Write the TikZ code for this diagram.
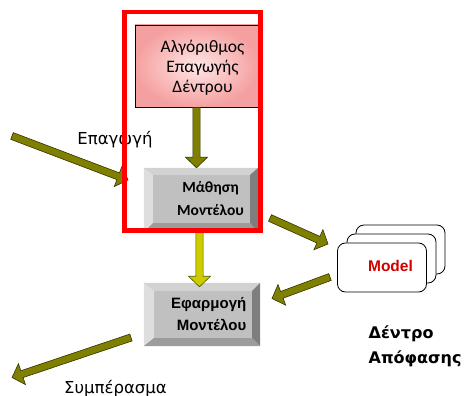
\documentclass[tikz,border=0pt]{standalone}
\usepackage{fontspec}
\setmainfont{Liberation Sans}
\newfontfamily\calfont{Carlito}
\newfontfamily\dvfont{DejaVu Sans}
\usetikzlibrary{calc}

\definecolor{bvface}{HTML}{C0C0C0}
\definecolor{bvtop}{HTML}{D2D2D2}
\definecolor{bvleft}{HTML}{DEDEDE}
\definecolor{bvright}{HTML}{7E7E7E}
\definecolor{bvbottom}{HTML}{9C9C9C}
\definecolor{olivefill}{HTML}{808000}
\definecolor{oliveline}{HTML}{333300}
\definecolor{yelfill}{HTML}{CCCC00}
\definecolor{yelline}{HTML}{555500}
\definecolor{pinkout}{HTML}{F5A0A0}
\definecolor{pinkin}{HTML}{FFE6E6}
\definecolor{modelred}{HTML}{D00000}

% block arrow between two points: #1 style, #2 tail, #3 tip
\newcommand\fatarrow[3]{%
  \path (#2) coordinate (fa-s) (#3) coordinate (fa-e);
  \path ($(fa-e)!10.5pt!(fa-s)$) coordinate (fa-h);
  \draw[#1] ($(fa-s)!3.6pt!90:(fa-e)$) -- ($(fa-h)!3.6pt!-90:(fa-s)$)
    -- ($(fa-h)!11pt!-90:(fa-s)$) -- (fa-e) -- ($(fa-h)!11pt!90:(fa-s)$)
    -- ($(fa-h)!3.6pt!90:(fa-s)$) -- ($(fa-s)!3.6pt!-90:(fa-e)$) -- cycle;}

% bevelled edges of a button node: #1 name, #2 left, #3 top, #4 right, #5 bottom
\newcommand\bevel[5]{%
  \fill[bvtop] (#1.north west) -- (#1.north east) -- ($(#1.north east)+(-#4,#3)$) -- ($(#1.north west)+(#2,#3)$) -- cycle;
  \fill[bvleft] (#1.north west) -- ($(#1.north west)+(#2,#3)$) -- ($(#1.south west)+(#2,-#5)$) -- (#1.south west) -- cycle;
  \fill[bvright] (#1.north east) -- (#1.south east) -- ($(#1.south east)+(-#4,-#5)$) -- ($(#1.north east)+(-#4,#3)$) -- cycle;
  \fill[bvbottom] (#1.south west) -- (#1.south east) -- ($(#1.south east)+(-#4,-#5)$) -- ($(#1.south west)+(#2,-#5)$) -- cycle;}

\begin{document}
\begin{tikzpicture}[x=1pt,y=-1pt,
  olivearrow/.style={fill=olivefill,draw=oliveline,line width=0.6pt,line join=miter},
  yelarrow/.style={fill=yelfill,draw=yelline,line width=0.6pt,line join=miter},
  button/.style={fill=bvface,draw=none,inner sep=0pt},
  btntext/.style={inner sep=0pt,font=\bfseries\fontsize{15}{22}\selectfont},
  plain/.style={inner sep=0pt,font=\dvfont\fontsize{16.5}{20}\selectfont},
  treetext/.style={inner sep=0pt,anchor=base west,font=\dvfont\bfseries\fontsize{16}{20}\selectfont},
  modelcard/.style={draw=black,line width=0.8pt,fill=white,rounded corners=8pt,
    minimum width=89pt,minimum height=49pt,inner sep=0pt}]
\useasboundingbox (0,0) rectangle (467,396);

% algorithm box
\node[draw=black,line width=0.7pt,inner sep=0pt,minimum width=123pt,minimum height=82pt,
  shading=radial,inner color=pinkin,outer color=pinkout] (algo) at (196.5,66) {};
\node[inner sep=0pt,align=center,font=\calfont\fontsize{17.5}{20}\selectfont]
  (algotext) at (202.5,68) {Αλγόριθμος\\Επαγωγής\\Δέντρου};

% learning button
\node[button,minimum width=114pt,minimum height=64pt] (learn) at (201,200) {};
\bevel{learn}{9}{7}{8}{9}
\node[btntext,align=center,font=\calfont\bfseries\fontsize{15.5}{23}\selectfont]
  (learntext) at (210.5,199) {Μάθηση\\Μοντέλου};

% application button
\node[button,minimum width=116pt,minimum height=63pt] (apply) at (202,314.5) {};
\bevel{apply}{10}{8}{8}{8}
\node[btntext,align=right,anchor=east] (applytext) at (246.5,314) {Εφαρμογή\\Μοντέλου};

% stacked model cards
\node[modelcard] (modelback) at (400.5,249.5) {};
\node[modelcard] (modelmid) at (391.5,258.5) {};
\node[modelcard] (model) at (382,267.5) {};
\node[inner sep=0pt,font=\bfseries\fontsize{15.5}{18}\selectfont,text=modelred]
  (modellabel) at (390.5,266) {Model};

% free labels
\node[plain,anchor=base] (induct) at (115,145) {Επαγωγή};
\node[plain,anchor=base] (conclude) at (115.5,393) {Συμπέρασμα};
\node[treetext] (tree1) at (368.5,338.7) {Δέντρο};
\node[treetext] (tree2) at (368.5,363.2) {Απόφασης};

% arrow end points
\coordinate (inTail) at (12,136);
\coordinate (inTip) at (128,180);
\coordinate (toModelTail) at (270,218);
\coordinate (toModelTip) at (328,244);
\coordinate (fromModelTail) at (330,277);
\coordinate (fromModelTip) at (272,298.5);
\coordinate (outTail) at (131,337.5);
\coordinate (outTip) at (12,377.5);
\coordinate (learnTop) at (algo.south |- learn.north);
\coordinate (yelTail) at ($(learn.south)+(-1.5,-2)$);
\coordinate (yelTip) at ($(apply.north)+(-2.5,4)$);

% connectors
\fatarrow{olivearrow}{algo.south}{learnTop}
\fatarrow{yelarrow}{yelTail}{yelTip}
\fatarrow{olivearrow}{inTail}{inTip}
\fatarrow{olivearrow}{toModelTail}{toModelTip}
\fatarrow{olivearrow}{fromModelTail}{fromModelTip}
\fatarrow{olivearrow}{outTail}{outTip}

% red frame round the induction part
\draw[red,line width=4.5pt] (124.5,12) rectangle (260.5,230.5);
\end{tikzpicture}
\end{document}
